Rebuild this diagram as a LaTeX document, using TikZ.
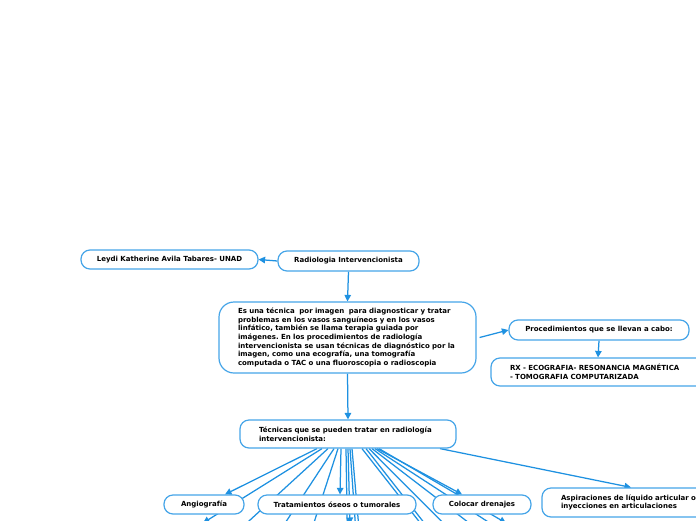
\documentclass[tikz,border=0pt]{standalone}
\usepackage{fontspec}
\setmainfont{DejaVu Sans}
\usetikzlibrary{arrows.meta,backgrounds}
\definecolor{linea}{RGB}{30,145,225}
\definecolor{borde}{RGB}{70,165,232}
\tikzset{
  caja/.style={draw=borde,line width=1.2pt,fill=white,rounded corners=9pt,
    font=\fontsize{7}{8.6}\selectfont\bfseries\frenchspacing,inner sep=0pt},
  texto/.style={caja,align=left,inner xsep=19pt},
  flecha/.style={draw=linea,line width=1.25pt,-{Triangle[length=6.5pt,width=6.5pt]}}
}

\begin{document}
\begin{tikzpicture}[x=1pt,y=-1pt]
\useasboundingbox (0,0) rectangle (696,520);

\node[caja,minimum width=177pt,minimum height=19pt] (leydi) at (169.5,259.5) {Leydi Katherine Avila Tabares- UNAD};
\node[caja,minimum width=141pt,minimum height=20pt] (radio) at (348.5,261) {Radiologia Intervencionista};
\node[texto,rounded corners=15pt,text width=219pt,minimum height=71pt] (main) at (347.5,337.5)
  {Es una técnica\ \ por imagen\ \ para diagnosticar y tratar\\problemas en los vasos sanguíneos y en los vasos\\linfático, también se llama terapia guiada por\\imágenes. En los procedimientos de radiología\\intervencionista se usan técnicas de diagnóstico por la\\imagen, como una ecografía, una tomografía\\computada o TAC o una fluoroscopia o radioscopia};
\node[caja,minimum width=180pt,minimum height=20pt] (proc) at (599,330) {Procedimientos que se llevan a cabo:};
\node[texto,text width=176pt,minimum height=28pt] (rx) at (598,372) {RX - ECOGRAFIA- RESONANCIA MAGNÉTICA\\- TOMOGRAFIA COMPUTARIZADA};
\node[texto,text width=178pt,minimum height=28pt] (tec) at (348,434) {Técnicas que se pueden tratar en radiología\\intervencionista:};
\node[caja,minimum width=80pt,minimum height=19pt] (angio) at (204,504.5) {Angiografía};
\node[caja,minimum width=158pt,minimum height=19pt] (trat) at (337,504.5) {Tratamientos óseos o tumorales};
\node[caja,minimum width=98pt,minimum height=19pt] (dren) at (482,504.5) {Colocar drenajes};
\node[texto,text width=180pt,minimum height=29pt] (asp) at (651,502.5) {Aspiraciones de líquido articular o\\inyecciones en articulaciones};

\begin{pgfonlayer}{background}
\fill[white] (0,0) rectangle (696,520);
\draw[flecha] (radio.west) -- (leydi.east);
\draw[flecha] (radio.south) -- (main.north);
\draw[flecha] ([xshift=3pt]main.east) -- (proc.west);
\draw[flecha] (proc.south) -- (rx.north);
\draw[flecha] (main.south) -- (tec.north);
\draw[flecha] ([xshift=-31pt]tec.south) -- ([xshift=21pt]angio.north);
\draw[flecha] ([xshift=-7pt]tec.south) -- ([xshift=3pt]trat.north);
\draw[flecha] ([xshift=29pt]tec.south) -- ([xshift=-20pt]dren.north);
\draw[flecha] ([xshift=92pt]tec.south) -- ([xshift=-20pt]asp.north);
\foreach \s/\x/\y [count=\i] in {-26/203/523,-20/190/575,-14/251/575,-10/297/575,
    -2/348/575,0/350/524,2/359/575,4/363/575,14/461/575,18/465/575,
    21/495/575,24/537/575,27/570/575,31/506/523}{
  \coordinate (sub\i) at (\x,\y);
  \draw[flecha] ([xshift=\s pt]tec.south) -- (sub\i);
}
\end{pgfonlayer}
\end{tikzpicture}
\end{document}
